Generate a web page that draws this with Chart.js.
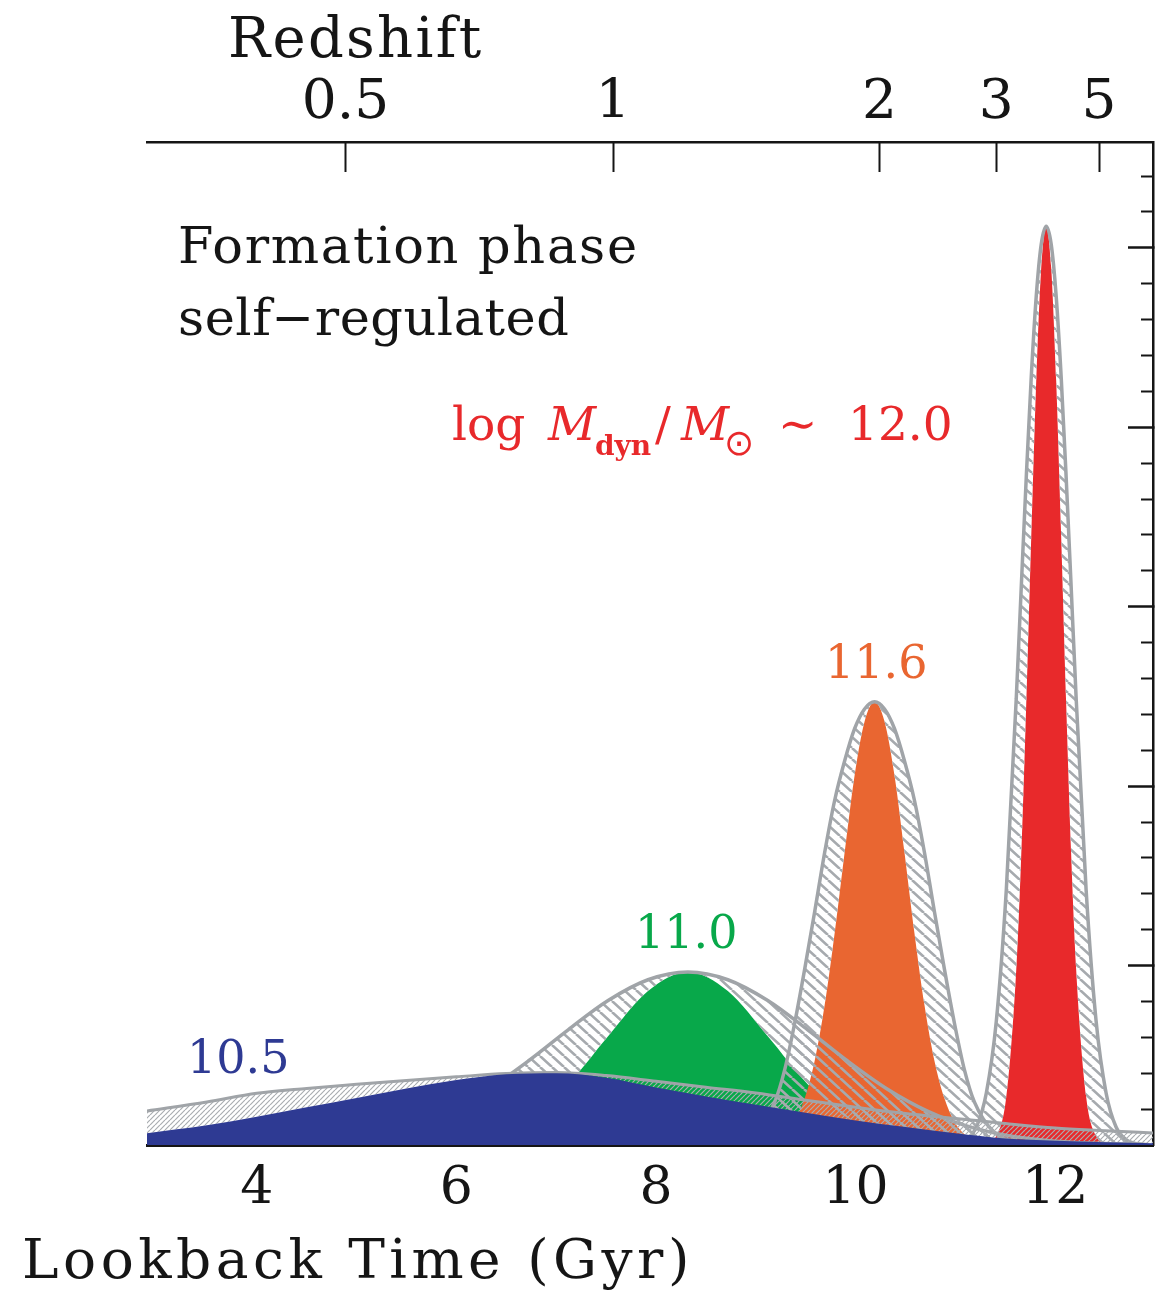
<!DOCTYPE html>
<html>
<head>
<meta charset="utf-8">
<script src="https://cdn.jsdelivr.net/npm/chart.js@4.4.0/dist/chart.umd.min.js"></script>
<style>
  html, body { margin: 0; padding: 0; background: #fff; }
  #wrap { position: relative; width: 1157px; height: 1291px; }
</style>
</head>
<body>
<div id="wrap"><canvas id="chart"></canvas></div>
<script>
// axis ranges and ticks
const xMin = 2.9, xMax = 12.98;
const yMin = 0, yMax = 5.59;
const bottomTicks = [4, 6, 8, 10, 12];
const bottomMinorTicks = [3, 5, 7, 9, 11];
const redshiftLabels = ['0.5', '1', '2', '3', '5'];
const redshiftAt = [4.89, 7.57, 10.24, 11.41, 12.44]; // lookback time of each redshift
const rightTicks = [1, 2, 3, 4, 5];
const rightMinorTicks = [0.2, 0.4, 0.6, 0.8, 1.2, 1.4, 1.6, 1.8, 2.2, 2.4, 2.6, 2.8,
    3.2, 3.4, 3.6, 3.8, 4.2, 4.4, 4.6, 4.8, 5.2, 5.4];

// log M ~ 10.5
const blueX = [2.9, 3.5, 4.0, 4.5, 5.0, 5.5, 6.0, 6.5, 7.0, 7.5, 8.0, 8.5, 9.0, 9.5, 10.0, 10.5, 11.0, 11.5, 12.0, 12.5, 13.0];
const blueFill = [0.066, 0.11, 0.157, 0.21, 0.262, 0.315, 0.362, 0.394, 0.40, 0.375, 0.32, 0.27, 0.224, 0.18, 0.137, 0.10, 0.065, 0.036, 0.024, 0.016, 0.01];
const blueEnv = [0.19, 0.24, 0.288, 0.315, 0.338, 0.36, 0.38, 0.398, 0.404, 0.387, 0.355, 0.322, 0.29, 0.25, 0.21, 0.175, 0.148, 0.12, 0.095, 0.08, 0.066];

// log M ~ 11.0
const greenX = [3.72, 4.32, 4.72, 5.12, 5.52, 5.92, 6.32, 6.72, 7.12, 7.52, 7.92, 8.32, 8.72, 9.12, 9.52, 9.92, 10.32, 10.72, 11.12, 11.52, 11.92, 12.32, 12.92];
const greenFill = [0, 0, 0, 0.001, 0.003, 0.015, 0.053, 0.150, 0.339, 0.606, 0.858, 0.964, 0.858, 0.606, 0.339, 0.150, 0.053, 0.015, 0.003, 0.001, 0, 0, 0];
const greenEnv = [0.003, 0.011, 0.025, 0.053, 0.105, 0.189, 0.311, 0.468, 0.642, 0.805, 0.921, 0.964, 0.921, 0.805, 0.642, 0.468, 0.311, 0.189, 0.105, 0.053, 0.025, 0.011, 0.003];

// log M ~ 11.6
const orangeX = [8.69, 8.99, 9.19, 9.29, 9.39, 9.49, 9.59, 9.69, 9.79, 9.89, 9.99, 10.09, 10.19, 10.29, 10.39, 10.49, 10.59, 10.69, 10.79, 10.89, 10.99, 11.09, 11.19, 11.39, 11.69];
const orangeFill = [0, 0.003, 0.025, 0.06, 0.13, 0.26, 0.47, 0.78, 1.18, 1.63, 2.06, 2.36, 2.47, 2.36, 2.06, 1.63, 1.18, 0.78, 0.47, 0.26, 0.13, 0.06, 0.025, 0.003, 0];
const orangeEnv = [0.01, 0.07, 0.24, 0.42, 0.68, 0.98, 1.30, 1.63, 1.92, 2.14, 2.32, 2.43, 2.47, 2.43, 2.32, 2.14, 1.92, 1.63, 1.30, 0.98, 0.68, 0.42, 0.24, 0.07, 0.01];

// log M ~ 12.0
const redX = [10.91, 11.11, 11.21, 11.31, 11.41, 11.51, 11.61, 11.66, 11.71, 11.76, 11.81, 11.86, 11.91, 11.96, 12.01, 12.06, 12.11, 12.16, 12.21, 12.31, 12.41, 12.51, 12.61, 12.71, 12.91];
const redFill = [0, 0, 0, 0.01, 0.05, 0.27, 0.98, 1.62, 2.46, 3.39, 4.26, 4.89, 5.12, 4.89, 4.26, 3.39, 2.46, 1.62, 0.98, 0.27, 0.05, 0.01, 0, 0, 0];
const redEnv = [0, 0.03, 0.10, 0.29, 0.69, 1.42, 2.49, 3.11, 3.72, 4.28, 4.73, 5.02, 5.12, 5.02, 4.73, 4.28, 3.72, 3.11, 2.49, 1.42, 0.69, 0.29, 0.10, 0.03, 0];

const BLUE = '#2e3a93', GREEN = '#08a84a', ORANGE = '#e96631', RED = '#e8292b';
const GRAY = '#a0a4a8', INK = '#151515';
const SERIF = '"DejaVu Serif", serif';

function points(xs, ys) {
    return xs.map((x, i) => ({ x: x, y: ys[i] }));
}

// tile with one diagonal line; dir 1 = '/', -1 = '\'
function hatch(w, h, width, color, dir) {
    const c = document.createElement('canvas');
    c.width = w; c.height = h;
    const g = c.getContext('2d');
    g.strokeStyle = color;
    g.lineWidth = width;
    g.beginPath();
    for (let k = -1; k <= 1; k++) {
        if (dir > 0) { g.moveTo(k * w, h); g.lineTo(k * w + w, 0); }
        else { g.moveTo(k * w, 0); g.lineTo(k * w + w, h); }
    }
    g.stroke();
    return g.createPattern(c, 'repeat');
}

const peakHatch = hatch(12, 11, 2.6, '#a6aaae', -1);
const blueHatch = hatch(5, 5, 1.2, '#a9adb1', 1);

function fillSet(label, xs, ys, color, order) {
    return {
        label: label, data: points(xs, ys), order: order,
        fill: 'origin', backgroundColor: color,
        borderColor: 'rgba(0,0,0,0)', borderWidth: 0
    };
}

function bandSet(label, xs, ys, target, pattern, order, lw) {
    return {
        label: label, data: points(xs, ys), order: order,
        fill: target, backgroundColor: pattern,
        borderColor: GRAY, borderWidth: lw
    };
}

const datasets = [
    fillSet('10.5', blueX, blueFill, BLUE, 1),                     // 0
    bandSet('10.5 range', blueX, blueEnv, 0, blueHatch, 2, 3),      // 1
    fillSet('12.0', redX, redFill, RED, 6),                        // 2
    bandSet('12.0 range', redX, redEnv, 2, peakHatch, 3, 3.5),      // 3
    fillSet('11.6', orangeX, orangeFill, ORANGE, 7),               // 4
    bandSet('11.6 range', orangeX, orangeEnv, 4, peakHatch, 4, 3.5),// 5
    fillSet('11.0', greenX, greenFill, GREEN, 8),                  // 6
    bandSet('11.0 range', greenX, greenEnv, 6, peakHatch, 5, 3.5)   // 7
];

function fixTicks(list) {
    return scale => { scale.ticks = list.map(v => ({ value: v })); };
}

const textPlugin = {
    id: 'texts',
    afterDraw(chart) {
        const ctx = chart.ctx;
        ctx.save();
        ctx.textAlign = 'left';
        ctx.textBaseline = 'alphabetic';
        const put = (str, x, y, font, color, ls) => {
            ctx.font = font;
            ctx.fillStyle = color;
            ctx.letterSpacing = ls || '0px';
            ctx.fillText(str, x, y);
        };
        put('Redshift', 228, 57, '56px ' + SERIF, INK, '2.3px');
        put('Lookback Time (Gyr)', 22, 1278, '55px ' + SERIF, INK, '4.5px');
        put('Formation phase', 178, 263, '51px ' + SERIF, INK, '1.7px');
        put('self\u2212regulated', 178, 335, '51px ' + SERIF, INK, '0.5px');

        put('log', 452, 440, '47px ' + SERIF, RED);
        put('M', 548, 440, 'italic 47px ' + SERIF, RED);
        put('dyn', 595, 455, 'bold 28px ' + SERIF, RED);
        put('/', 655, 440, '47px ' + SERIF, RED);
        put('M', 681, 440, 'italic 47px ' + SERIF, RED);
        put('\u2299', 724, 455, '36px "DejaVu Sans"', RED);
        put('\u223C', 778, 440, '47px ' + SERIF, RED);
        put('12.0', 848, 440, '47px ' + SERIF, RED);

        put('11.6', 825, 678, '46px ' + SERIF, ORANGE);
        put('11.0', 635, 948, '46px ' + SERIF, GREEN);
        put('10.5', 187, 1073, '46px ' + SERIF, BLUE);
        ctx.restore();
    }
};

new Chart(document.getElementById('chart'), {
    type: 'line',
    data: { datasets: datasets },
    options: {
        responsive: true,
        maintainAspectRatio: false,
        animation: false,
        events: [],
        layout: { padding: { left: 147, right: 0, top: 0, bottom: 0 } },
        elements: {
            point: { radius: 0 },
            line: { cubicInterpolationMode: 'monotone' }
        },
        plugins: { legend: { display: false }, tooltip: { enabled: false } },
        scales: {
            x: {
                type: 'linear', position: 'bottom', min: xMin, max: xMax, weight: 1,
                afterBuildTicks: fixTicks(bottomTicks),
                afterFit: s => { s.height = 146; },
                grid: { drawOnChartArea: false, tickLength: -24, tickWidth: 3, tickColor: INK },
                border: { color: INK, width: 3 },
                ticks: { font: { family: SERIF, size: 52 }, color: INK, padding: 37, maxRotation: 0, autoSkip: false }
            },
            xMinor: {
                type: 'linear', position: 'bottom', min: xMin, max: xMax, weight: 0,
                afterBuildTicks: fixTicks(bottomMinorTicks),
                afterFit: s => { s.height = 0; },
                grid: { drawOnChartArea: false, tickLength: -12, tickWidth: 3, tickColor: INK },
                border: { display: false },
                ticks: { display: false }
            },
            x2: {
                type: 'linear', position: 'top', min: xMin, max: xMax,
                afterBuildTicks: fixTicks(redshiftAt),
                afterFit: s => { s.height = 142; },
                grid: { drawOnChartArea: false, tickLength: -30, tickWidth: 2, tickColor: INK },
                border: { color: INK, width: 2.5 },
                ticks: {
                    callback: (v, i) => redshiftLabels[i],
                    font: { family: SERIF, size: 55 }, color: INK, padding: 35, maxRotation: 0, autoSkip: false
                }
            },
            y: {
                type: 'linear', position: 'right', min: yMin, max: yMax, weight: 1,
                afterBuildTicks: fixTicks(rightTicks),
                afterFit: s => { s.width = 4; },
                grid: { drawOnChartArea: false, tickLength: -25, tickWidth: 2.5, tickColor: INK },
                border: { color: INK, width: 2.5 },
                ticks: { display: false }
            },
            yMinor: {
                type: 'linear', position: 'right', min: yMin, max: yMax, weight: 0,
                afterBuildTicks: fixTicks(rightMinorTicks),
                afterFit: s => { s.width = 0; },
                grid: { drawOnChartArea: false, tickLength: -12, tickWidth: 2, tickColor: INK },
                border: { display: false },
                ticks: { display: false }
            }
        }
    },
    plugins: [textPlugin]
});
</script>
</body>
</html>
